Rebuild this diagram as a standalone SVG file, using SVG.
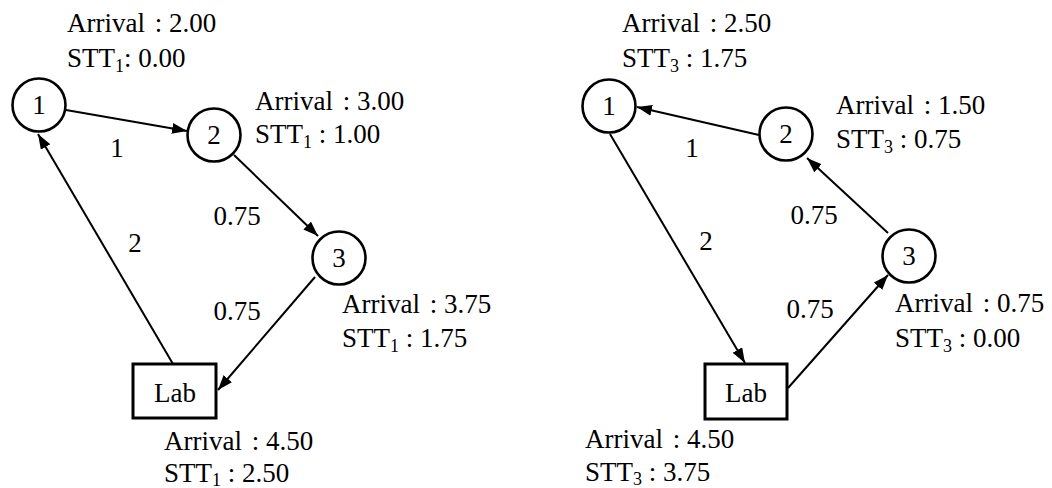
<svg xmlns="http://www.w3.org/2000/svg" width="1052" height="488" viewBox="0 0 1052 488">
  <style>
    .t { font-family: "Liberation Serif", "Times New Roman", serif; font-size: 27px; fill: #000; }
    .c { text-anchor: middle; }
    .sub { font-size: 18px; }
    .node { fill: #fff; stroke: #000; stroke-width: 2.6; }
    .lab { fill: #fff; stroke: #000; stroke-width: 3; }
    .edge { stroke: #000; stroke-width: 2; fill: none; marker-end: url(#arrow); }
  </style>
  <defs>
    <marker id="arrow" markerUnits="userSpaceOnUse" markerWidth="16" markerHeight="12" refX="15" refY="5.5" orient="auto">
      <path d="M0,0 L15,5.5 L0,11 z" fill="#000"/>
    </marker>
  </defs>
  <rect width="1052" height="488" fill="#fff"/>

  <!-- Route for STT1 (left) -->
  <g id="left-edges">
    <line class="edge" x1="66" y1="110" x2="187" y2="131"/>
    <line class="edge" x1="234" y1="155" x2="318" y2="236"/>
    <line class="edge" x1="315" y1="277" x2="218" y2="390"/>
    <line class="edge" x1="173" y1="364" x2="38" y2="134"/>
  </g>
  <g id="left-edge-labels" class="t c">
    <text x="117" y="157">1</text>
    <text x="237" y="225">0.75</text>
    <text x="135" y="252">2</text>
    <text x="237" y="320">0.75</text>
  </g>
  <g id="L1">
    <circle class="node" cx="39" cy="105" r="26.5"/>
    <text class="t c" x="39" y="114">1</text>
    <text class="t" x="67" y="32">Arrival <tspan dx="3">: 2.00</tspan></text>
    <text class="t" x="67" y="67">STT<tspan class="sub" dy="5">1</tspan><tspan dy="-5">: 0.00</tspan></text>
  </g>
  <g id="L2">
    <circle class="node" cx="214" cy="135" r="26.5"/>
    <text class="t c" x="214" y="144">2</text>
    <text class="t" x="255" y="110">Arrival <tspan dx="3">: 3.00</tspan></text>
    <text class="t" x="255" y="143">STT<tspan class="sub" dy="5">1</tspan><tspan dy="-5"> : 1.00</tspan></text>
  </g>
  <g id="L3">
    <circle class="node" cx="339" cy="258" r="26.5"/>
    <text class="t c" x="339" y="267">3</text>
    <text class="t" x="342" y="313">Arrival <tspan dx="3">: 3.75</tspan></text>
    <text class="t" x="342" y="347">STT<tspan class="sub" dy="5">1</tspan><tspan dy="-5"> : 1.75</tspan></text>
  </g>
  <g id="LLab">
    <rect class="lab" x="133" y="364" width="83" height="54"/>
    <text class="t c" x="175" y="402">Lab</text>
    <text class="t" x="164" y="450">Arrival <tspan dx="3">: 4.50</tspan></text>
    <text class="t" x="164" y="482">STT<tspan class="sub" dy="4">1</tspan><tspan dy="-4"> : 2.50</tspan></text>
  </g>

  <!-- Route for STT3 (right) -->
  <g id="right-edges">
    <line class="edge" x1="759" y1="135" x2="637" y2="107"/>
    <line class="edge" x1="610" y1="134" x2="745" y2="363"/>
    <line class="edge" x1="788" y1="388" x2="888" y2="275"/>
    <line class="edge" x1="888" y1="233" x2="807" y2="158"/>
  </g>
  <g id="right-edge-labels" class="t c">
    <text x="692" y="157">1</text>
    <text x="814" y="224">0.75</text>
    <text x="706" y="250">2</text>
    <text x="810" y="318">0.75</text>
  </g>
  <g id="R1">
    <circle class="node" cx="609" cy="106" r="26.5"/>
    <text class="t c" x="609" y="115">1</text>
    <text class="t" x="622" y="32">Arrival <tspan dx="3">: 2.50</tspan></text>
    <text class="t" x="622" y="67">STT<tspan class="sub" dy="5">3</tspan><tspan dy="-5"> : 1.75</tspan></text>
  </g>
  <g id="R2">
    <circle class="node" cx="786" cy="134" r="26.5"/>
    <text class="t c" x="786" y="143">2</text>
    <text class="t" x="836" y="114">Arrival <tspan dx="3">: 1.50</tspan></text>
    <text class="t" x="836" y="148">STT<tspan class="sub" dy="5">3</tspan><tspan dy="-5"> : 0.75</tspan></text>
  </g>
  <g id="R3">
    <circle class="node" cx="909" cy="256" r="26.5"/>
    <text class="t c" x="909" y="265">3</text>
    <text class="t" x="895" y="312">Arrival <tspan dx="3">: 0.75</tspan></text>
    <text class="t" x="895" y="347">STT<tspan class="sub" dy="5">3</tspan><tspan dy="-5"> : 0.00</tspan></text>
  </g>
  <g id="RLab">
    <rect class="lab" x="705" y="364" width="82" height="55"/>
    <text class="t c" x="746" y="402">Lab</text>
    <text class="t" x="585" y="448">Arrival <tspan dx="3">: 4.50</tspan></text>
    <text class="t" x="585" y="481">STT<tspan class="sub" dy="4">3</tspan><tspan dy="-4"> : 3.75</tspan></text>
  </g>
</svg>
